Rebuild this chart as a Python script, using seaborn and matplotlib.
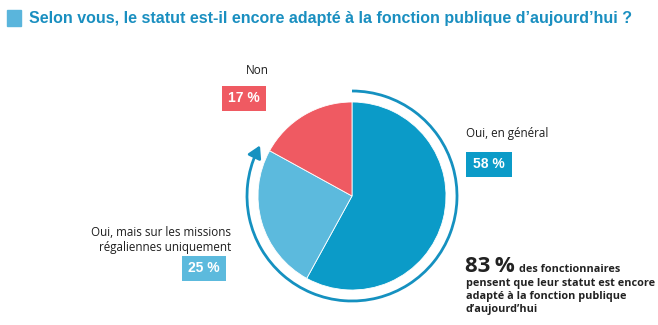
import matplotlib
matplotlib.use("Agg")
import matplotlib.pyplot as plt
import seaborn as sns
import numpy as np
from matplotlib.patches import Arc, Rectangle

# ---- data ----
categories = ["Oui, en général", "Oui, mais sur les missions\nrégaliennes uniquement", "Non"]
values = [58, 25, 17]
value_labels = ["58 %", "25 %", "17 %"]
total_yes = 83
title = "Selon vous, le statut est-il encore adapté à la fonction publique d\u2019aujourd\u2019hui ?"

sns.set_theme(style="white")
plt.rcParams["font.family"] = ["Open Sans", "DejaVu Sans"]

colors = ["#0b9bc8", "#5cbadd", "#ef5a62"]
arc_color = "#1591c0"

W, H = 658, 325
fig = plt.figure(figsize=(W / 100, H / 100), dpi=100)
ax = fig.add_axes([0, 0, 1, 1])

cx, cy, r = 352, H - 196, 94
ax.pie(values, colors=colors, startangle=90, counterclock=False,
       center=(cx, cy), radius=r,
       wedgeprops=dict(linewidth=0.6, edgecolor="white"))
ax.set_xlim(0, W)
ax.set_ylim(0, H)
ax.set_aspect("equal")
ax.axis("off")

# arc around the "yes" share
frac = (values[0] + values[1]) / sum(values)
end_ang = 90 - frac * 360 + 360  # degrees
ra = 105
arc = Arc((cx, cy), 2 * ra, 2 * ra, theta1=end_ang + 4, theta2=450,
          color=arc_color, lw=2.0)
ax.add_patch(arc)
t = np.deg2rad(end_ang)
t0 = np.deg2rad(end_ang + 6)
ax.annotate("", xy=(cx + ra * np.cos(t), cy + ra * np.sin(t)),
            xytext=(cx + ra * np.cos(t0), cy + ra * np.sin(t0)),
            arrowprops=dict(arrowstyle="-|>,head_length=0.6,head_width=0.35",
                            color=arc_color, lw=2.0, shrinkA=0, shrinkB=0))

# title
fig.patches.append(Rectangle((7 / W, 1 - 26 / H), 14 / W, 16 / H,
                             transform=fig.transFigure, color="#5ab5dc"))
fig.text(29 / W, 1 - 18 / H, title, fontsize=11.5, fontweight="bold",
         color="#1a8fc0", va="center", ha="left",
         family=["Liberation Sans", "DejaVu Sans"])

txtc = "#1e1e1e"
lab_fs = 8.4

def badge(x0, y0, w, h, color, text):
    ax.add_patch(Rectangle((x0, H - y0 - h), w, h, color=color, lw=0))
    ax.text(x0 + w / 2, H - y0 - h / 2, text, color="white", fontsize=10,
            fontweight="bold", ha="center", va="center",
            family=["Liberation Sans", "DejaVu Sans"])

# Non
ax.text(257, H - 70, categories[2], fontsize=lab_fs, color=txtc, ha="center", va="center")
badge(222, 86, 44, 25, colors[2], value_labels[2])

# Oui, en général
ax.text(466, H - 134, categories[0], fontsize=lab_fs, color=txtc, ha="left", va="center")
badge(466, 152, 46, 25, colors[0], value_labels[0])

# Oui, mais...
ax.text(231, H - 240, categories[1], fontsize=lab_fs, color=txtc, ha="right",
        va="center", linespacing=1.25)
badge(182, 256, 44, 25, colors[1], value_labels[1])

# 83 %
dark = "#222222"
ax.text(465, H - 272, f"{total_yes}\u2009%", fontsize=16, fontweight="bold",
        color=dark, ha="left", va="baseline",
        family=["Open Sans", "DejaVu Sans"])
ax.text(519, H - 272, "des fonctionnaires", fontsize=7.8, fontweight="bold",
        color=dark, ha="left", va="baseline")
for line, yb in zip(["pensent que leur statut est encore",
                     "adapté à la fonction publique",
                     "d\u2019aujourd\u2019hui"], [286, 299, 312]):
    ax.text(466, H - yb, line, fontsize=7.8, fontweight="bold", color=dark,
            ha="left", va="baseline")

fig.savefig("out.png", dpi=100, facecolor="white")
